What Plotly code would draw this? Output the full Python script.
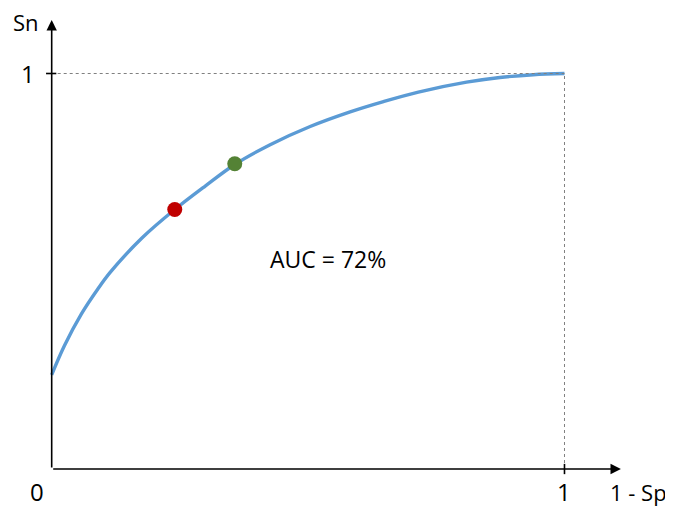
import plotly.graph_objects as go

# ROC curve (x = 1 - Sp, y = Sn)
fpr = [0.0, 0.025, 0.058, 0.090, 0.114, 0.176, 0.240, 0.300, 0.357, 0.426, 0.504,
       0.582, 0.647, 0.715, 0.809, 0.874, 0.939, 1.0]
tpr = [0.238, 0.312, 0.392, 0.455, 0.497, 0.584, 0.656, 0.716, 0.770, 0.820, 0.866,
       0.903, 0.929, 0.953, 0.978, 0.990, 0.997, 1.0]

# operating points
red_pt = (0.240, 0.656)
green_pt = (0.357, 0.772)

auc_label = "AUC = 72%"
x_title = "1 - Sp"
y_title = "Sn"

# page body has an 8px margin -> figure slightly smaller than the window
W, H = 665, 501
XR = [-0.0852, 1.2116]
YR = [-0.1011, 1.1656]

FONT = "Open Sans, Liberation Sans, sans-serif"

fig = go.Figure()

# dotted guide lines
fig.add_shape(type="line", x0=0, y0=1, x1=1, y1=1, xref="x", yref="y",
              line=dict(color="#808080", width=1, dash="dot"))
fig.add_shape(type="line", x0=1, y0=0, x1=1, y1=1, xref="x", yref="y",
              line=dict(color="#808080", width=1, dash="dot"))

# ROC curve
fig.add_trace(go.Scatter(x=fpr, y=tpr, mode="lines",
                         line=dict(color="#5B9BD5", width=3.4, shape="spline", smoothing=1.0),
                         hoverinfo="skip", showlegend=False))

# points
fig.add_trace(go.Scatter(x=[red_pt[0]], y=[red_pt[1]], mode="markers",
                         marker=dict(color="#C00000", size=15), showlegend=False))
fig.add_trace(go.Scatter(x=[green_pt[0]], y=[green_pt[1]], mode="markers",
                         marker=dict(color="#548235", size=15), showlegend=False))

# tick marks
fig.add_shape(type="line", x0=-0.011, y0=1, x1=0.009, y1=1, xref="x", yref="y",
              line=dict(color="black", width=1.6))
fig.add_shape(type="line", x0=1, y0=-0.013, x1=1, y1=0.013, xref="x", yref="y",
              line=dict(color="black", width=1.6))

annotations = [
    # x axis arrow
    dict(x=1.110, y=0, ax=0, ay=0, xref="x", yref="y", axref="x", ayref="y",
         showarrow=True, arrowhead=2, arrowsize=1.3, arrowwidth=1.6, arrowcolor="black",
         standoff=0, startstandoff=0, text=""),
    # y axis arrow
    dict(x=0, y=1.135, ax=0, ay=0, xref="x", yref="y", axref="x", ayref="y",
         showarrow=True, arrowhead=2, arrowsize=1.3, arrowwidth=1.6, arrowcolor="black",
         standoff=0, startstandoff=0, text=""),
    dict(x=-0.050, y=1.130, text=y_title, showarrow=False, xanchor="center", yanchor="middle",
         font=dict(size=22, color="black", family=FONT)),
    dict(x=-0.047, y=0.999, text="1", showarrow=False, xanchor="center", yanchor="middle",
         font=dict(size=24, color="black", family=FONT)),
    dict(x=-0.0287, y=-0.057, text="0", showarrow=False, xanchor="center", yanchor="middle",
         font=dict(size=24, color="black", family=FONT)),
    dict(x=0.999, y=-0.058, text="1", showarrow=False, xanchor="center", yanchor="middle",
         font=dict(size=24, color="black", family=FONT)),
    dict(x=1.085, y=-0.058, text=x_title, showarrow=False, xanchor="left", yanchor="middle",
         font=dict(size=22, color="black", family=FONT)),
    dict(x=0.539, y=0.530, text=auc_label, showarrow=False, xanchor="center", yanchor="middle",
         font=dict(size=23, color="black", family=FONT)),
]

fig.update_layout(
    width=W, height=H,
    margin=dict(l=0, r=0, t=0, b=0, pad=0),
    paper_bgcolor="white", plot_bgcolor="white",
    xaxis=dict(range=XR, visible=False, fixedrange=True),
    yaxis=dict(range=YR, visible=False, fixedrange=True),
    annotations=annotations,
    showlegend=False,
)

fig.write_html("out.html")
